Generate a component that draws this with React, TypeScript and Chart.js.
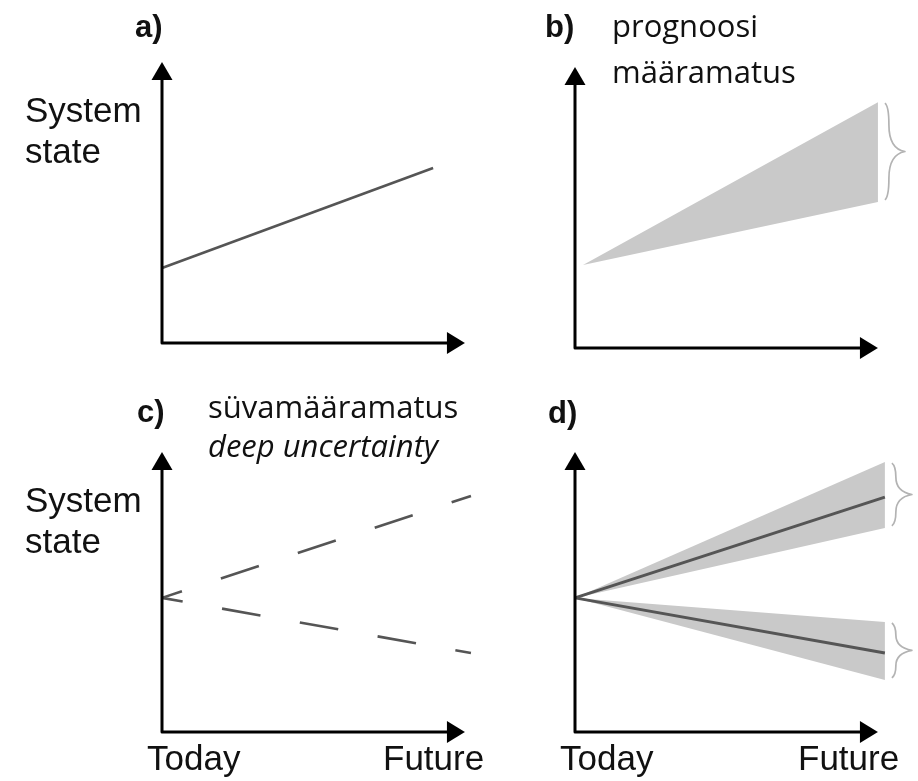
import React, { useEffect, useRef } from "react";
import { Chart, registerables } from "chart.js";

Chart.register(...registerables);

const W = 918;
const H = 781;

// ---- text / tick labels ----
const timeTicks = ["Today", "Future"];
const stateTitle = ["System", "state"];
const panelLetters = ["a)", "b)", "c)", "d)"];
const bTitle = ["prognoosi", "määramatus"];
const cTitle = ["süvamääramatus", "deep uncertainty"];

// ---- axis extents (data units) ----
const xAxisEnd = 10;
const yAxisEnd = 10;
const xScaleMax = 10.3;

// ---- panel a: single projection ----
const aX = [0, 8.95];
const aState = [2.67, 6.23];

// ---- panel b: forecast uncertainty band ----
const bX = [0.26, 10.0];
const bUpper = [2.95, 8.75];
const bLower = [2.95, 5.2];

// ---- panel c: deep uncertainty (dashed futures) ----
const cX = [0, 10.2];
const cHigh = [4.79, 8.43];
const cLow = [4.79, 2.82];

// ---- panel d: two futures with bands ----
const dX = [0, 10.23];
const dHighUpper = [4.79, 9.64];
const dHigh = [4.79, 8.39];
const dHighLower = [4.79, 7.29];
const dLowUpper = [4.79, 3.93];
const dLow = [4.79, 2.82];
const dLowLower = [4.79, 1.86];

const pts = (xs: number[], ys: number[]) => xs.map((x, i) => ({ x, y: ys[i] }));

const ARIAL = '"Liberation Sans", Arial, sans-serif';
const OPEN = '"Open Sans", sans-serif';
const LINE_GRAY = "#555555";
const BAND = "#c9c9c9";

type TextItem = { t: string; x: number; y: number; font: string };
type Brace = { top: number; bottom: number; x: number };

const decor = {
  id: "decor",
  afterDraw(chart: any, _args: any, opts: any) {
    const ctx: CanvasRenderingContext2D = chart.ctx;
    const xs = chart.scales.x;
    const ys = chart.scales.y;
    const x0 = xs.getPixelForValue(0);
    const y0 = ys.getPixelForValue(0);
    const xt = xs.getPixelForValue(xAxisEnd);
    const yt = ys.getPixelForValue(yAxisEnd);
    ctx.save();
    // axes
    ctx.strokeStyle = "#000";
    ctx.fillStyle = "#000";
    ctx.lineWidth = 3;
    ctx.lineJoin = "round";
    ctx.beginPath();
    ctx.moveTo(x0, yt + 14);
    ctx.lineTo(x0, y0);
    ctx.lineTo(xt - 14, y0);
    ctx.stroke();
    ctx.beginPath();
    ctx.moveTo(x0, yt);
    ctx.lineTo(x0 - 10.5, yt + 18);
    ctx.lineTo(x0 + 10.5, yt + 18);
    ctx.closePath();
    ctx.fill();
    ctx.beginPath();
    ctx.moveTo(xt, y0);
    ctx.lineTo(xt - 18, y0 - 11);
    ctx.lineTo(xt - 18, y0 + 11);
    ctx.closePath();
    ctx.fill();

    // braces
    ctx.strokeStyle = "#b3b3b3";
    ctx.lineWidth = 1.7;
    ctx.lineJoin = "round";
    (opts.braces || []).forEach((b: Brace) => {
      const bx = xs.getPixelForValue(b.x) + 7;
      const t = ys.getPixelForValue(b.top) + 1;
      const bt = ys.getPixelForValue(b.bottom) - 2;
      const mid = (t + bt) / 2;
      const w = 20;
      ctx.beginPath();
      ctx.moveTo(bx, t);
      ctx.quadraticCurveTo(bx + 4, t + 3, bx + 4, t + (mid - t) * 0.45);
      ctx.quadraticCurveTo(bx + 4, mid - 3, bx + w, mid);
      ctx.quadraticCurveTo(bx + 4, mid + 3, bx + 4, mid + (bt - mid) * 0.55);
      ctx.quadraticCurveTo(bx + 4, bt - 3, bx, bt);
      ctx.stroke();
    });

    // texts
    ctx.fillStyle = "#111";
    ctx.textBaseline = "alphabetic";
    ctx.textAlign = "left";
    (opts.texts || []).forEach((tx: TextItem) => {
      ctx.font = tx.font;
      ctx.fillText(tx.t, tx.x, tx.y);
    });
    ctx.restore();
  },
};

type PanelCfg = {
  area: { left: number; top: number; right: number; bottom: number };
  datasets: any[];
  texts: TextItem[];
  braces: Brace[];
};

const LETTER_FONT = `bold 31px ${ARIAL}`;
const LABEL_FONT = `35px ${ARIAL}`;
const EST_FONT = `31px ${OPEN}`;
const EST_ITALIC = `italic 31px ${OPEN}`;

const line = (data: any, extra: any = {}) => ({
  data,
  borderColor: LINE_GRAY,
  borderWidth: 2.6,
  pointRadius: 0,
  fill: false,
  tension: 0,
  clip: false,
  ...extra,
});

const bandTop = (data: any) => ({
  data,
  borderColor: "rgba(0,0,0,0)",
  borderWidth: 0,
  backgroundColor: BAND,
  pointRadius: 0,
  fill: "+1",
  tension: 0,
});
const bandBottom = (data: any) => ({
  data,
  borderColor: "rgba(0,0,0,0)",
  borderWidth: 0,
  pointRadius: 0,
  fill: false,
  tension: 0,
});

const panels: PanelCfg[] = [
  {
    area: { left: 162, top: 62, right: 474, bottom: 343 },
    datasets: [line(pts(aX, aState))],
    texts: [
      { t: panelLetters[0], x: 135, y: 37, font: LETTER_FONT },
      { t: stateTitle[0], x: 25, y: 122, font: LABEL_FONT },
      { t: stateTitle[1], x: 25, y: 163, font: LABEL_FONT },
    ],
    braces: [],
  },
  {
    area: { left: 575, top: 67, right: 887, bottom: 348 },
    datasets: [bandTop(pts(bX, bUpper)), bandBottom(pts(bX, bLower))],
    texts: [
      { t: panelLetters[1], x: 545, y: 37, font: LETTER_FONT },
      { t: bTitle[0], x: 612, y: 37, font: EST_FONT },
      { t: bTitle[1], x: 612, y: 83, font: EST_FONT },
    ],
    braces: [{ top: bUpper[1], bottom: bLower[1], x: bX[1] }],
  },
  {
    area: { left: 162, top: 452, right: 474, bottom: 732 },
    datasets: [
      line(pts(cX, cHigh), { borderWidth: 2.6, borderDash: [40, 41], borderDashOffset: 19 }),
      line(pts(cX, cLow), { borderWidth: 2.6, borderDash: [39, 40], borderDashOffset: 18 }),
    ],
    texts: [
      { t: panelLetters[2], x: 137, y: 422, font: LETTER_FONT },
      { t: cTitle[0], x: 208, y: 418, font: EST_FONT },
      { t: cTitle[1], x: 208, y: 457, font: EST_ITALIC },
      { t: stateTitle[0], x: 25, y: 512, font: LABEL_FONT },
      { t: stateTitle[1], x: 25, y: 553, font: LABEL_FONT },
      { t: timeTicks[0], x: 147, y: 770, font: LABEL_FONT },
      { t: timeTicks[1], x: 383, y: 770, font: LABEL_FONT },
    ],
    braces: [],
  },
  {
    area: { left: 575, top: 452, right: 887, bottom: 732 },
    // Chart.js paints lower indices on top: lines first, bands after.
    datasets: [
      line(pts(dX, dHigh), { borderWidth: 3 }),
      line(pts(dX, dLow), { borderWidth: 3 }),
      bandTop(pts(dX, dHighUpper)),
      bandBottom(pts(dX, dHighLower)),
      bandTop(pts(dX, dLowUpper)),
      bandBottom(pts(dX, dLowLower)),
    ],
    texts: [
      { t: panelLetters[3], x: 548, y: 423, font: LETTER_FONT },
      { t: timeTicks[0], x: 560, y: 770, font: LABEL_FONT },
      { t: timeTicks[1], x: 798, y: 770, font: LABEL_FONT },
    ],
    braces: [
      { top: dHighUpper[1], bottom: dHighLower[1], x: dX[1] },
      { top: dLowUpper[1], bottom: dLowLower[1], x: dX[1] },
    ],
  },
];

function Panel({ cfg }: { cfg: PanelCfg }) {
  const ref = useRef<HTMLCanvasElement>(null);
  useEffect(() => {
    const canvas = ref.current;
    if (!canvas) return;
    const chart = new Chart(canvas, {
      type: "line",
      data: { datasets: cfg.datasets },
      options: {
        animation: false,
        responsive: false,
        events: [],
        layout: {
          padding: {
            left: cfg.area.left,
            top: cfg.area.top,
            right: W - cfg.area.right,
            bottom: H - cfg.area.bottom,
          },
        },
        scales: {
          x: { type: "linear", min: 0, max: xScaleMax, display: false },
          y: { type: "linear", min: 0, max: yAxisEnd, display: false },
        },
        plugins: {
          legend: { display: false },
          tooltip: { enabled: false },
          decor: { texts: cfg.texts, braces: cfg.braces },
        } as any,
      },
      plugins: [decor as any],
    });
    return () => chart.destroy();
  }, [cfg]);
  return (
    <canvas
      ref={ref}
      width={W}
      height={H}
      style={{ position: "absolute", left: 0, top: 0, width: W, height: H }}
    />
  );
}

export default function App() {
  return (
    <div
      style={{
        position: "absolute",
        left: 0,
        top: 0,
        width: W,
        height: H,
        background: "#fff",
        overflow: "hidden",
      }}
    >
      {panels.map((p, i) => (
        <Panel key={i} cfg={p} />
      ))}
    </div>
  );
}
